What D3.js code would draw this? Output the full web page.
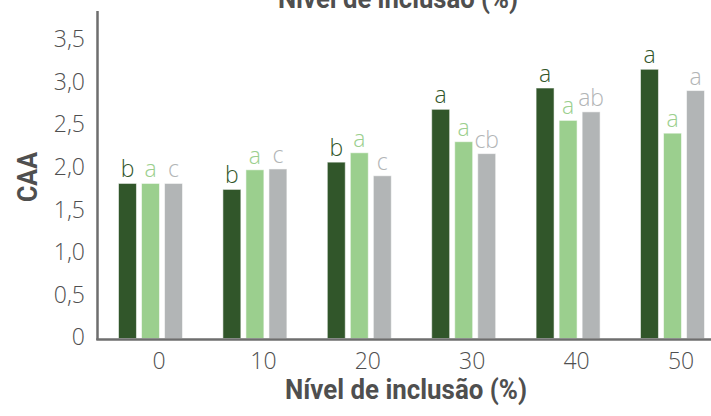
<!DOCTYPE html>
<html>
<head>
<meta charset="utf-8">
<script src="https://cdn.jsdelivr.net/npm/d3@7"></script>
<style>
  html, body { margin: 0; padding: 0; background: #fff; }
  svg { display: block; }
</style>
</head>
<body>
<svg id="chart" width="711" height="416"></svg>
<script>
// Inclusion levels (%) on the x axis
const categories = ["0", "10", "20", "30", "40", "50"];
const seriesNames = ["s1", "s2", "s3"];

// CAA values for each series
const values1 = [1.82, 1.75, 2.07, 2.69, 2.94, 3.16];
const values2 = [1.82, 1.98, 2.18, 2.31, 2.56, 2.41];
const values3 = [1.82, 1.99, 1.91, 2.17, 2.66, 2.91];

// Significance letters above each bar
const letters1 = ["b", "b", "b", "a", "a", "a"];
const letters2 = ["a", "a", "a", "a", "a", "a"];
const letters3 = ["c", "c", "c", "cb", "ab", "a"];

const yTicks = [0, 0.5, 1.0, 1.5, 2.0, 2.5, 3.0, 3.5];

const colors = ["#31562a", "#9bcf8e", "#b2b5b6"];
const axisColor = "#6e6e6e";
const textColor = "#4f4f4f";
const titleFont = "Roboto, 'DejaVu Sans', sans-serif";
const labelFont = "'Open Sans', 'Noto Sans', sans-serif";

const svg = d3.select("#chart");

const x0 = d3.scaleBand()
  .domain(categories)
  .range([98.3, 724.7])
  .paddingInner(0.387)
  .paddingOuter(0.1935);

const x1 = d3.scaleBand()
  .domain(seriesNames)
  .range([0, x0.bandwidth()])
  .paddingInner(0.22);

const y = d3.scaleLinear()
  .domain([0, 3.5])
  .range([338.5, 40.3]);

const seriesValues = [values1, values2, values3];
const seriesLetters = [letters1, letters2, letters3];

const rows = [];
categories.forEach((c, i) => {
  seriesNames.forEach((s, j) => {
    rows.push({ cat: c, series: s, idx: j, value: seriesValues[j][i], letter: seriesLetters[j][i] });
  });
});

// Bars
svg.append("g")
  .selectAll("rect")
  .data(rows)
  .join("rect")
  .attr("x", d => x0(d.cat) + x1(d.series))
  .attr("y", d => y(d.value))
  .attr("width", x1.bandwidth())
  .attr("height", d => y(0) - y(d.value))
  .attr("fill", d => colors[d.idx])
  .attr("stroke", "#ffffff")
  .attr("stroke-opacity", 0.55)
  .attr("stroke-width", 1);

// Letters above bars
svg.append("g")
  .selectAll("text")
  .data(rows)
  .join("text")
  .attr("x", d => x0(d.cat) + x1(d.series) + x1.bandwidth() / 2)
  .attr("y", d => y(d.value) - 6)
  .attr("text-anchor", "middle")
  .attr("font-family", labelFont)
  .attr("font-weight", 300)
  .attr("font-size", 23)
  .attr("fill", d => colors[d.idx])
  .text(d => d.letter);

// Y axis
const yAxis = d3.axisLeft(y)
  .tickValues(yTicks)
  .tickSize(0)
  .tickPadding(0)
  .tickFormat(v => v === 0 ? "0" : d3.format(".1f")(v).replace(".", ","));

const gy = svg.append("g")
  .attr("transform", "translate(85,0)")
  .call(yAxis);
gy.select(".domain").remove();
gy.selectAll("text")
  .attr("font-family", labelFont)
  .attr("font-weight", 300)
  .attr("font-size", 23)
  .attr("fill", textColor)
  .attr("dy", "0.28em");

// X axis
const xAxis = d3.axisBottom(x0).tickSize(0).tickPadding(0);
const gx = svg.append("g")
  .attr("transform", "translate(8.5,369)")
  .call(xAxis);
gx.select(".domain").remove();
gx.selectAll("text")
  .attr("font-family", labelFont)
  .attr("font-weight", 300)
  .attr("font-size", 23)
  .attr("fill", textColor)
  .attr("dy", 0);

// Axis lines
svg.append("line")
  .attr("x1", 97.5).attr("x2", 97.5)
  .attr("y1", 11).attr("y2", 340)
  .attr("stroke", axisColor).attr("stroke-width", 2.5);
svg.append("line")
  .attr("x1", 96.3).attr("x2", 711)
  .attr("y1", 339.5).attr("y2", 339.5)
  .attr("stroke", axisColor).attr("stroke-width", 2.5);

// Axis titles
function condensedTitle(sel, txt, xPos, yPos, len, size) {
  return sel.append("text")
    .attr("x", xPos)
    .attr("y", yPos)
    .attr("text-anchor", "middle")
    .attr("font-family", titleFont)
    .attr("font-weight", 700)
    .attr("font-size", size)
    .attr("fill", textColor)
    .attr("textLength", len)
    .attr("lengthAdjust", "spacingAndGlyphs")
    .text(txt);
}

condensedTitle(svg, "Nível de inclusão (%)", 406, 399, 242, 28);
condensedTitle(svg, "Nível de inclusão (%)", 398, 8, 240, 28);

svg.append("text")
  .attr("transform", "translate(37,177) rotate(-90)")
  .attr("text-anchor", "middle")
  .attr("font-family", titleFont)
  .attr("font-weight", 700)
  .attr("font-size", 28)
  .attr("fill", textColor)
  .attr("textLength", 50)
  .attr("lengthAdjust", "spacingAndGlyphs")
  .text("CAA");
</script>
</body>
</html>
